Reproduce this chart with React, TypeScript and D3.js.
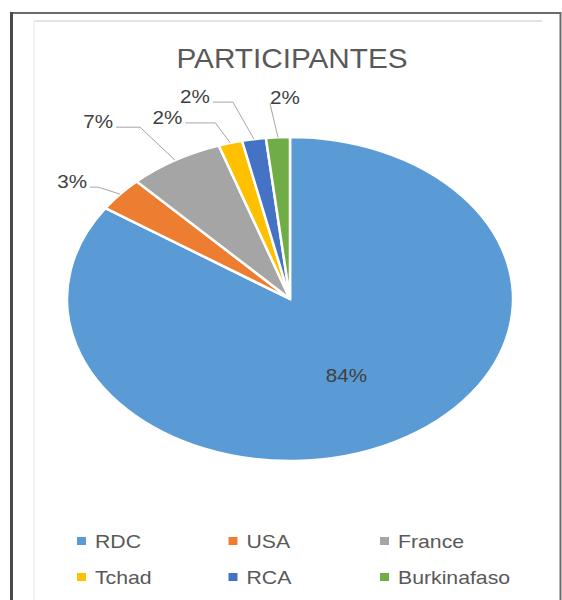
import * as d3 from "d3";

const title = "PARTICIPANTES";
const countries = ["RDC", "USA", "France", "Tchad", "RCA", "Burkinafaso"];
const participants = [49, 2, 4, 1, 1, 1];
const colors = ["#5B9BD5", "#ED7D31", "#A5A5A5", "#FFC000", "#4472C4", "#70AD47"];

// Excel "best fit" label placement: elbow offset from slice edge, horizontal run
const labelElbows: ([number, number, number] | null)[] = [
  null,
  [-22, -7, 8],
  [-35, -33, 24],
  [-15, -20, 30],
  [-21, -37, 20],
  [-8, -34, 0],
];

export default function App() {
  const width = 562;
  const height = 600;
  const cx = 290;
  const cy = 299;
  const ry = 162;
  const rx = 223;
  const sx = rx / ry;
  const textStretch = 1.18;
  const font = "'Liberation Sans', Arial, sans-serif";

  const total = d3.sum(participants);
  const fmt = d3.format(".0%");

  const pie = d3
    .pie<number>()
    .sort(null)
    .value((d) => d)
    .startAngle(0)
    .endAngle(2 * Math.PI);
  const arcs = pie(participants);

  const arc = d3.arc<d3.PieArcDatum<number>>().innerRadius(0).outerRadius(ry);
  const edgeArc = d3.arc<d3.PieArcDatum<number>>().innerRadius(ry).outerRadius(ry);
  const innerArc = d3
    .arc<d3.PieArcDatum<number>>()
    .innerRadius(ry * 0.54)
    .outerRadius(ry * 0.54);

  const legendCol = d3.scalePoint<number>().domain([0, 1, 2]).range([77, 380]);
  const legendRow = d3.scalePoint<number>().domain([0, 1]).range([541, 577]);

  return (
    <svg
      width={width}
      height={height}
      style={{ position: "absolute", left: 0, top: 0, background: "#fff" }}
    >
      {/* outer frame */}
      <path d="M11.5,600 V13 H560.5 V600" fill="none" stroke="#6b6b6b" strokeWidth={2} />
      <line x1={11.5} x2={11.5} y1={12} y2={600} stroke="#4a4a4a" strokeWidth={3} />
      {/* chart area */}
      <line x1={34} x2={542} y1={21} y2={21} stroke="#e3e3e3" strokeWidth={2} />
      <line x1={34} x2={34} y1={21} y2={600} stroke="#ececec" strokeWidth={1.5} />

      <text
        transform={`translate(292,68) scale(1.1,1)`}
        textAnchor="middle"
        fontFamily={font}
        fontSize={27}
        fill="#595959"
      >
        {title}
      </text>

      <g transform={`translate(${cx},${cy}) scale(${sx},1)`}>
        {arcs.map((d, i) => (
          <path
            key={countries[i]}
            d={arc(d) ?? ""}
            fill={colors[i]}
            stroke="#fff"
            strokeWidth={2.5}
            vectorEffect="non-scaling-stroke"
          />
        ))}
      </g>

      {arcs.map((d, i) => {
        const label = fmt(d.value / total);
        const el = labelElbows[i];
        if (!el) {
          const [px, py] = innerArc.centroid(d);
          return (
            <text
              key={i}
              transform={`translate(${cx + px * sx},${cy + py + 6}) scale(${textStretch},1)`}
              textAnchor="middle"
              fontFamily={font}
              fontSize={17.5}
              fill="#404040"
            >
              {label}
            </text>
          );
        }
        const [ex, ey] = edgeArc.centroid(d);
        const ax = cx + ex * sx;
        const ay = cy + ey;
        const bx = ax + el[0];
        const by = ay + el[1];
        const tx = bx - el[2];
        const anchorEnd = el[2] > 0;
        return (
          <g key={i}>
            <polyline
              points={`${ax},${ay} ${bx},${by} ${tx},${by}`}
              fill="none"
              stroke="#a6a6a6"
              strokeWidth={1}
            />
            <text
              transform={`translate(${anchorEnd ? tx - 3 : bx},${by + 1}) scale(${textStretch},1)`}
              textAnchor={anchorEnd ? "end" : "start"}
              fontFamily={font}
              fontSize={17.5}
              fill="#404040"
            >
              {label}
            </text>
          </g>
        );
      })}

      {countries.map((c, i) => {
        const x = legendCol(i % 3) ?? 0;
        const y = legendRow(Math.floor(i / 3)) ?? 0;
        return (
          <g key={c}>
            <rect x={x} y={y - 4} width={9} height={8} fill={colors[i]} />
            <text
              transform={`translate(${x + 18},${y + 6.5}) scale(${textStretch},1)`}
              fontFamily={font}
              fontSize={18}
              fill="#595959"
            >
              {c}
            </text>
          </g>
        );
      })}
    </svg>
  );
}
